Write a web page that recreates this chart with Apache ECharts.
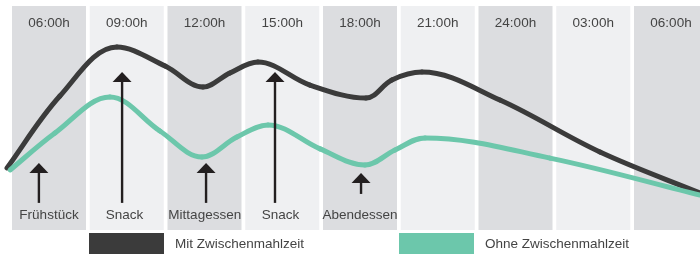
<!DOCTYPE html>
<html>
<head>
<meta charset="utf-8">
<script src="https://cdn.jsdelivr.net/npm/echarts@6/dist/echarts.min.js"></script>
<style>html,body{margin:0;padding:0;background:#fff}#c{width:700px;height:254px}</style>
</head>
<body>
<div id="c"></div>
<script>
// Time columns (hours since midnight of day 1) and their header labels
var columnHours = [6, 9, 12, 15, 18, 21, 24, 27, 30];
var columnLabels = ['06:00h', '09:00h', '12:00h', '15:00h', '18:00h', '21:00h', '24:00h', '03:00h', '06:00h'];

// Curve with snacks: [hour, level]
var mitHours  = [4.38, 6.42, 8.62, 10.48, 11.94, 12.98, 14.06, 16.07, 18.23, 19.23, 20.39, 23.40, 27.26, 31.12];
var mitLevels = [27.7, 59.8, 81.7, 73.2, 63.8, 70.1, 75.0, 64.7, 58.9, 67.0, 70.5, 58.0, 34.8, 16.5];

// Curve without snacks
var ohneHours  = [4.50, 6.23, 8.35, 10.28, 11.90, 13.25, 14.45, 16.46, 18.19, 19.35, 20.51, 25.33, 31.12];
var ohneLevels = [26.8, 43.3, 59.4, 44.2, 32.6, 41.5, 46.9, 36.2, 29.0, 35.7, 41.1, 32.1, 15.6];

// Meals
var meals = ['Frühstück', 'Snack', 'Mittagessen', 'Snack', 'Abendessen'];
var mealLabelHours = [6.0, 8.91, 12.01, 14.93, 18.0];
var arrowHours = [5.61, 8.82, 12.06, 14.72, 18.04];
var arrowBase = [12.1, 12.1, 12.1, 12.1, 16.1];
var arrowTip = [29.9, 70.5, 29.9, 70.5, 25.4];
var mealLabelLevel = 6.7;

var seriesNames = ['Mit Zwischenmahlzeit', 'Ohne Zwischenmahlzeit'];
var DARK = '#3b3b3b', TEAL = '#6cc7ab';
var FONT = '"Liberation Sans", Arial, sans-serif';

var chart = echarts.init(document.getElementById('c'), null, {renderer: 'canvas'});
var halfW = 1.428;
var TENSION = 0.36;

// Smooth curve series: each data item draws the segment to the next point,
// with tangents from neighbouring data points (all positions via api.coord).
function curveSeries(name, hours, levels, color) {
  var n = hours.length;
  return {
    name: name, type: 'custom', z: 3, silent: true, clip: false,
    itemStyle: {color: color},
    data: hours.map(function (h, i) { return [h, levels[i], i]; }),
    encode: {x: 0, y: 1},
    renderItem: function (params, api) {
      var i = api.value(2);
      if (i >= n - 1) return null;
      function P(k) { k = Math.max(0, Math.min(n - 1, k)); return api.coord([hours[k], levels[k]]); }
      function dist(a, b) { return Math.sqrt((a[0] - b[0]) * (a[0] - b[0]) + (a[1] - b[1]) * (a[1] - b[1])); }
      function tangent(a, b, c) {
        var t = [c[0] - a[0], c[1] - a[1]];
        if ((a[1] - b[1]) * (c[1] - b[1]) > 0) t[1] = 0; // local extreme: flat tangent
        return t;
      }
      var p0 = P(i - 1), p1 = P(i), p2 = P(i + 1), p3 = P(i + 2);
      var d01 = dist(p0, p1), d12 = dist(p1, p2), d23 = dist(p2, p3);
      var c1, c2;
      if (i === 0) {
        c1 = [p1[0] + (p2[0] - p1[0]) * 0.33, p1[1] + (p2[1] - p1[1]) * 0.33];
      } else {
        var r1 = d12 / (d01 + d12), t1 = tangent(p0, p1, p2);
        c1 = [p1[0] + t1[0] * TENSION * r1, p1[1] + t1[1] * TENSION * r1];
      }
      if (i + 1 === n - 1) {
        c2 = [p2[0] - (p2[0] - p1[0]) * 0.33, p2[1] - (p2[1] - p1[1]) * 0.33];
      } else {
        var r2 = d12 / (d12 + d23), t2 = tangent(p1, p2, p3);
        c2 = [p2[0] - t2[0] * TENSION * r2, p2[1] - t2[1] * TENSION * r2];
      }
      return {
        type: 'bezierCurve',
        shape: {x1: p1[0], y1: p1[1], cpx1: c1[0], cpy1: c1[1], cpx2: c2[0], cpy2: c2[1], x2: p2[0], y2: p2[1]},
        style: {stroke: color, lineWidth: 5, fill: null, lineCap: 'round'}
      };
    }
  };
}

chart.setOption({
  animation: false,
  grid: {left: 0, right: 0, top: 6, bottom: 24},
  xAxis: {type: 'value', min: 4.109, max: 31.119, show: false},
  yAxis: {type: 'value', min: 0, max: 100, show: false},
  legend: [
    {data: [seriesNames[0]], left: 89, top: 233, padding: 0, icon: 'rect', itemWidth: 75, itemHeight: 22,
     itemStyle: {color: DARK},
     textStyle: {color: '#444', fontSize: 13.5, fontFamily: FONT, padding: [0, 0, 0, 6]}, selectedMode: false},
    {data: [seriesNames[1]], left: 399, top: 233, padding: 0, icon: 'rect', itemWidth: 75, itemHeight: 22,
     itemStyle: {color: TEAL},
     textStyle: {color: '#444', fontSize: 13.5, fontFamily: FONT, padding: [0, 0, 0, 6]}, selectedMode: false}
  ],
  series: [
    {
      type: 'custom', z: 1, silent: true, clip: false,
      data: columnHours.map(function (h, i) { return [h, i]; }),
      encode: {x: 0},
      renderItem: function (params, api) {
        var h = api.value(0), i = api.value(1);
        var p0 = api.coord([h - halfW, 100]);
        var p1 = api.coord([h + halfW, 0]);
        var c = api.coord([h, 100]);
        return {
          type: 'group',
          children: [
            {type: 'rect', shape: {x: p0[0], y: p0[1], width: p1[0] - p0[0], height: p1[1] - p0[1]},
             style: {fill: i % 2 === 0 ? '#dcdde0' : '#eff0f2'}},
            {type: 'text', style: {text: columnLabels[i], x: c[0], y: c[1] + 17.5, align: 'center', verticalAlign: 'middle',
             fill: '#444', fontSize: 13.5, fontFamily: FONT}}
          ]
        };
      }
    },
    curveSeries(seriesNames[0], mitHours, mitLevels, DARK),
    curveSeries(seriesNames[1], ohneHours, ohneLevels, TEAL),
    {
      type: 'custom', z: 5, silent: true, clip: false,
      data: meals.map(function (m, i) { return [arrowHours[i], arrowBase[i], arrowTip[i], mealLabelHours[i], i]; }),
      encode: {x: 0, y: 2},
      renderItem: function (params, api) {
        var h = api.value(0), b = api.value(1), t = api.value(2), lh = api.value(3), i = api.value(4);
        var pb = api.coord([h, b]);
        var pt = api.coord([h, t]);
        var pl = api.coord([lh, mealLabelLevel]);
        var hw = 9.5, hh = 10;
        return {
          type: 'group',
          children: [
            {type: 'line', shape: {x1: pb[0], y1: pb[1], x2: pt[0], y2: pt[1] + hh - 1}, style: {stroke: '#231f20', lineWidth: 2.4}},
            {type: 'polygon', shape: {points: [[pt[0], pt[1]], [pt[0] - hw, pt[1] + hh], [pt[0] + hw, pt[1] + hh]]}, style: {fill: '#231f20'}},
            {type: 'text', style: {text: meals[i], x: pl[0], y: pl[1], align: 'center', verticalAlign: 'middle',
             fill: '#444', fontSize: 13.5, fontFamily: FONT}}
          ]
        };
      }
    }
  ]
});
</script>
</body>
</html>
